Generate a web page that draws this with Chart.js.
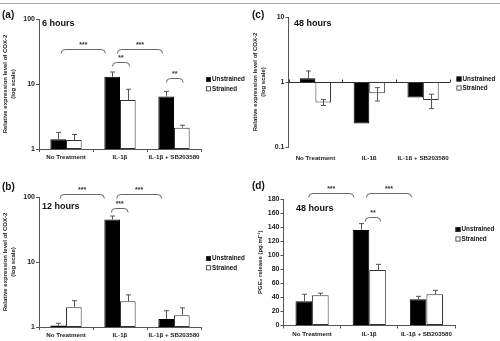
<!DOCTYPE html>
<html>
<head>
<meta charset="utf-8">
<script src="https://cdn.jsdelivr.net/npm/chart.js@4.4.0/dist/chart.umd.min.js"></script>
<style>
body { margin: 0; background: #fff; }
#wrap { position: relative; width: 500px; height: 341px; overflow: hidden; }
.panel { position: absolute; width: 250px; height: 170px; }
.topline { position: absolute; left: 0; top: 3px; width: 500px; height: 1px; background: #aaa; }
</style>
</head>
<body>
<div id="wrap">
  <div class="topline"></div>
  <div class="panel" style="left:0;top:0"><canvas id="chartA"></canvas></div>
  <div class="panel" style="left:250px;top:0"><canvas id="chartC"></canvas></div>
  <div class="panel" style="left:0;top:170px"><canvas id="chartB"></canvas></div>
  <div class="panel" style="left:250px;top:170px"><canvas id="chartD"></canvas></div>
</div>
<script>
const categories = ['No Treatment', 'IL-1β', 'IL-1β + SB203580'];
const seriesNames = ['Unstrained', 'Strained'];

// (a) COX-2, 6 hours (log scale)
const aUnstrained = [1.41, 12.9, 6.4];
const aStrained = [1.37, 5.65, 2.13];
const aUnstrainedErr = [1.80, 15.3, 7.7];
const aStrainedErr = [1.67, 8.3, 2.32];

// (b) COX-2, 12 hours (log scale)
const bUnstrained = [1.05, 45, 1.33];
const bStrained = [2.01, 2.5, 1.51];
const bUnstrainedErr = [1.14, 51, 1.78];
const bStrainedErr = [2.54, 3.12, 1.97];

// (c) COX-2, 48 hours (log scale, bars drawn from 1)
const cUnstrained = [1.14, 0.23, 0.58];
const cStrained = [0.485, 0.67, 0.53];
const cUnstrainedErrHigh = [1.48, null, null];
const cStrainedErrHigh = [0.54, 0.82, 0.65];
const cStrainedErrLow = [0.435, 0.51, 0.39];

// (d) PGE2 release, 48 hours
const dUnstrained = [34.5, 136, 37.5];
const dStrained = [43, 79, 44.5];
const dUnstrainedErr = [44.5, 145, 41.5];
const dStrainedErr = [46, 87, 50];

const logTicksAB = [1, 10, 100];
const logTicksC = [0.1, 1, 10];
const linTicksD = [0, 20, 40, 60, 80, 100, 120, 140, 160, 180];

// significance brackets: [from category, to category, level, stars]
const aBrackets = [[-0.09, 0.73, 34.5, '***'], [0.95, 1.79, 34.5, '***'], [0.86, 1.18, 21.8, '**'], [1.86, 2.17, 12.4, '**']];
const bBrackets = [[-0.11, 0.71, 111, '***'], [0.94, 1.77, 111, '***'], [0.84, 1.15, 67.8, '***']];
const dBrackets = [[-0.06, 0.73, 188, '***'], [0.95, 1.74, 188, '***'], [0.93, 1.2, 154, '**']];

const FONT = 'Liberation Sans, Arial, sans-serif';
const AXIS = '#555';

const errorBars = {
  id: 'errorBars',
  afterDatasetsDraw(chart) {
    const ctx = chart.ctx;
    const y = chart.scales.y;
    ctx.save();
    ctx.strokeStyle = '#555';
    ctx.lineWidth = 1;
    chart.data.datasets.forEach((ds, di) => {
      const meta = chart.getDatasetMeta(di);
      meta.data.forEach((bar, i) => {
        const hi = ds.errHigh ? ds.errHigh[i] : null;
        const lo = ds.errLow ? ds.errLow[i] : null;
        if (hi == null && lo == null) return;
        const x = Math.round(bar.x) + 0.5;
        const y1 = hi != null ? y.getPixelForValue(hi) : bar.y;
        const y2 = lo != null ? y.getPixelForValue(lo) : bar.y;
        ctx.beginPath();
        ctx.moveTo(x, y1);
        ctx.lineTo(x, y2);
        if (hi != null) { ctx.moveTo(x - 2.5, y1); ctx.lineTo(x + 2.5, y1); }
        if (lo != null) { ctx.moveTo(x - 2.5, y2); ctx.lineTo(x + 2.5, y2); }
        ctx.stroke();
      });
    });
    ctx.restore();
  }
};

const brackets = {
  id: 'brackets',
  afterDraw(chart, args, opts) {
    if (!opts.items) return;
    const ctx = chart.ctx;
    const xs = chart.scales.x, ys = chart.scales.y;
    ctx.save();
    ctx.strokeStyle = '#666';
    ctx.lineWidth = 1;
    ctx.fillStyle = '#333';
    ctx.font = 'bold 7px ' + FONT;
    ctx.textAlign = 'center';
    ctx.textBaseline = 'bottom';
    opts.items.forEach(([from, to, level, stars]) => {
      const x1 = xs.getPixelForValue(from), x2 = xs.getPixelForValue(to);
      const yy = Math.round(ys.getPixelForValue(level)) + 0.5;
      ctx.beginPath();
      ctx.moveTo(x1, yy + 4);
      ctx.quadraticCurveTo(x1, yy, x1 + 4, yy);
      ctx.lineTo(x2 - 4, yy);
      ctx.quadraticCurveTo(x2, yy, x2, yy + 4);
      ctx.stroke();
      ctx.fillText(stars, (x1 + x2) / 2, yy - 1);
    });
    ctx.restore();
  }
};

const panelText = {
  id: 'panelText',
  afterDraw(chart, args, opts) {
    const ctx = chart.ctx;
    ctx.save();
    ctx.fillStyle = '#111';
    ctx.textBaseline = 'middle';
    ctx.textAlign = 'left';
    (opts.items || []).forEach(t => {
      ctx.font = t.font;
      ctx.fillText(t.text, t.x, t.y);
    });
    const lg = opts.legend;
    if (lg) {
      ctx.font = 'bold 6.3px ' + FONT;
      chart.data.datasets.forEach((ds, i) => {
        const yy = lg.y + i * lg.gap;
        ctx.fillStyle = ds.backgroundColor;
        ctx.fillRect(lg.x, yy - 2.5, 5, 5);
        ctx.strokeStyle = '#333';
        ctx.lineWidth = 0.8;
        ctx.strokeRect(lg.x + 0.4, yy - 2.1, 4.2, 4.2);
        ctx.fillStyle = '#111';
        ctx.fillText(ds.label, lg.x + 6, yy);
      });
    }
    ctx.restore();
  }
};

const baseLine = {
  id: 'baseLine',
  afterDatasetsDraw(chart, args, opts) {
    if (opts.value == null) return;
    const ctx = chart.ctx;
    const {left, right} = chart.chartArea;
    const yy = Math.round(chart.scales.y.getPixelForValue(opts.value)) + 0.5;
    const xs = chart.scales.x;
    ctx.save();
    ctx.strokeStyle = '#333';
    ctx.lineWidth = 1;
    ctx.beginPath();
    ctx.moveTo(left, yy);
    ctx.lineTo(right, yy);
    for (let k = 0; k <= categories.length; k++) {
      const px = Math.round(xs.getPixelForValue(k - 0.5)) + 0.5;
      ctx.moveTo(px, yy);
      ctx.lineTo(px, yy - 3);
    }
    ctx.stroke();
    ctx.restore();
  }
};

function makeDatasets(u, s, uHi, sHi, uLo, sLo) {
  return [
    { label: seriesNames[0], data: u, backgroundColor: '#000', borderColor: '#000', borderWidth: 1,
      borderSkipped: false, errHigh: uHi, errLow: uLo, barPercentage: 1, categoryPercentage: 0.58 },
    { label: seriesNames[1], data: s, backgroundColor: '#fff', borderColor: '#333', borderWidth: 1,
      borderSkipped: false, errHigh: sHi, errLow: sLo, barPercentage: 1, categoryPercentage: 0.58 }
  ];
}

function makeChart(id, cfg) {
  const yScale = {
    type: cfg.log ? 'logarithmic' : 'linear',
    min: cfg.min, max: cfg.max,
    afterFit(s) { s.width = cfg.yWidth; },
    afterBuildTicks(s) { s.ticks = cfg.ticks.map(v => ({ value: v })); },
    border: { display: true, color: AXIS, width: 1 },
    grid: { display: true, drawOnChartArea: false, drawTicks: true, tickLength: 3, color: AXIS },
    ticks: { padding: 1, color: '#222', font: { family: FONT, size: 7, weight: 'bold' },
      callback: v => String(v) },
    title: { display: true, text: cfg.yTitle, color: '#222', padding: { top: cfg.titlePad, bottom: 0 },
      font: { family: FONT, size: 6, weight: 'bold', lineHeight: 1.35 } }
  };
  const xScale = {
    type: 'category',
    afterFit(s) { s.height = 13; },
    border: { display: !cfg.baseValue, color: AXIS, width: 1 },
    grid: { display: !cfg.baseValue, offset: true, drawOnChartArea: false, tickLength: 3, color: AXIS },
    ticks: { padding: cfg.baseValue ? 5 : 2, color: '#222', maxRotation: 0, autoSkip: false,
      font: { family: FONT, size: 6.2, weight: 'bold' } }
  };
  return new Chart(document.getElementById(id), {
    type: 'bar',
    data: { labels: categories, datasets: cfg.datasets },
    options: {
      responsive: true,
      maintainAspectRatio: false,
      animation: false,
      layout: { padding: cfg.padding },
      scales: { x: xScale, y: yScale },
      plugins: {
        legend: { display: false },
        tooltip: { enabled: false },
        brackets: { items: cfg.brackets },
        baseLine: { value: cfg.baseValue },
        panelText: { items: cfg.texts, legend: cfg.legend }
      }
    },
    plugins: [errorBars, baseLine, brackets, panelText]
  });
}

const coxTitle = ['Relative expression level of COX-2', '(log scale)'];
const letterFont = 'bold 10px ' + FONT;
const hoursFont = 'bold 9px ' + FONT;

makeChart('chartA', {
  log: true, min: 1, max: 100, ticks: logTicksAB, yWidth: 39, titlePad: 1, yTitle: coxTitle,
  padding: { left: 0, right: 49, top: 19, bottom: 8 },
  datasets: makeDatasets(aUnstrained, aStrained, aUnstrainedErr, aStrainedErr),
  brackets: aBrackets,
  texts: [{ text: '(a)', x: 2, y: 15, font: letterFont }, { text: '6 hours', x: 42, y: 24, font: hoursFont }],
  legend: { x: 206, y: 79.5, gap: 9.3 }
});

makeChart('chartB', {
  log: true, min: 1, max: 100, ticks: logTicksAB, yWidth: 39, titlePad: 1, yTitle: coxTitle,
  padding: { left: 0, right: 49, top: 27, bottom: 0 },
  datasets: makeDatasets(bUnstrained, bStrained, bUnstrainedErr, bStrainedErr),
  brackets: bBrackets,
  texts: [{ text: '(b)', x: 2, y: 17, font: letterFont }, { text: '12 hours', x: 42, y: 36.5, font: hoursFont }],
  legend: { x: 206, y: 88.5, gap: 9.3 }
});

makeChart('chartC', {
  log: true, min: 0.1, max: 10, ticks: logTicksC, yWidth: 38.5, titlePad: 1, yTitle: coxTitle,
  padding: { left: 0, right: 50, top: 17, bottom: 10 },
  datasets: makeDatasets(cUnstrained.map(v => [1, v]), cStrained.map(v => [1, v]),
    cUnstrainedErrHigh, cStrainedErrHigh, null, cStrainedErrLow),
  baseValue: 1,
  texts: [{ text: '(c)', x: 2, y: 15, font: letterFont }, { text: '48 hours', x: 44, y: 23.5, font: hoursFont }],
  legend: { x: 206.5, y: 79, gap: 9 }
});

makeChart('chartD', {
  log: false, min: 0, max: 180, ticks: linTicksD, yWidth: 33.5, titlePad: 6, yTitle: 'PGE₂ release (pg.ml⁻¹)',
  padding: { left: 0, right: 45, top: 29, bottom: 1.5 },
  datasets: makeDatasets(dUnstrained, dStrained, dUnstrainedErr, dStrainedErr),
  brackets: dBrackets,
  texts: [{ text: '(d)', x: 2, y: 16, font: letterFont }, { text: '48 hours', x: 46, y: 38.5, font: hoursFont }],
  legend: { x: 205.5, y: 59.5, gap: 9.5 }
});
</script>
</body>
</html>
